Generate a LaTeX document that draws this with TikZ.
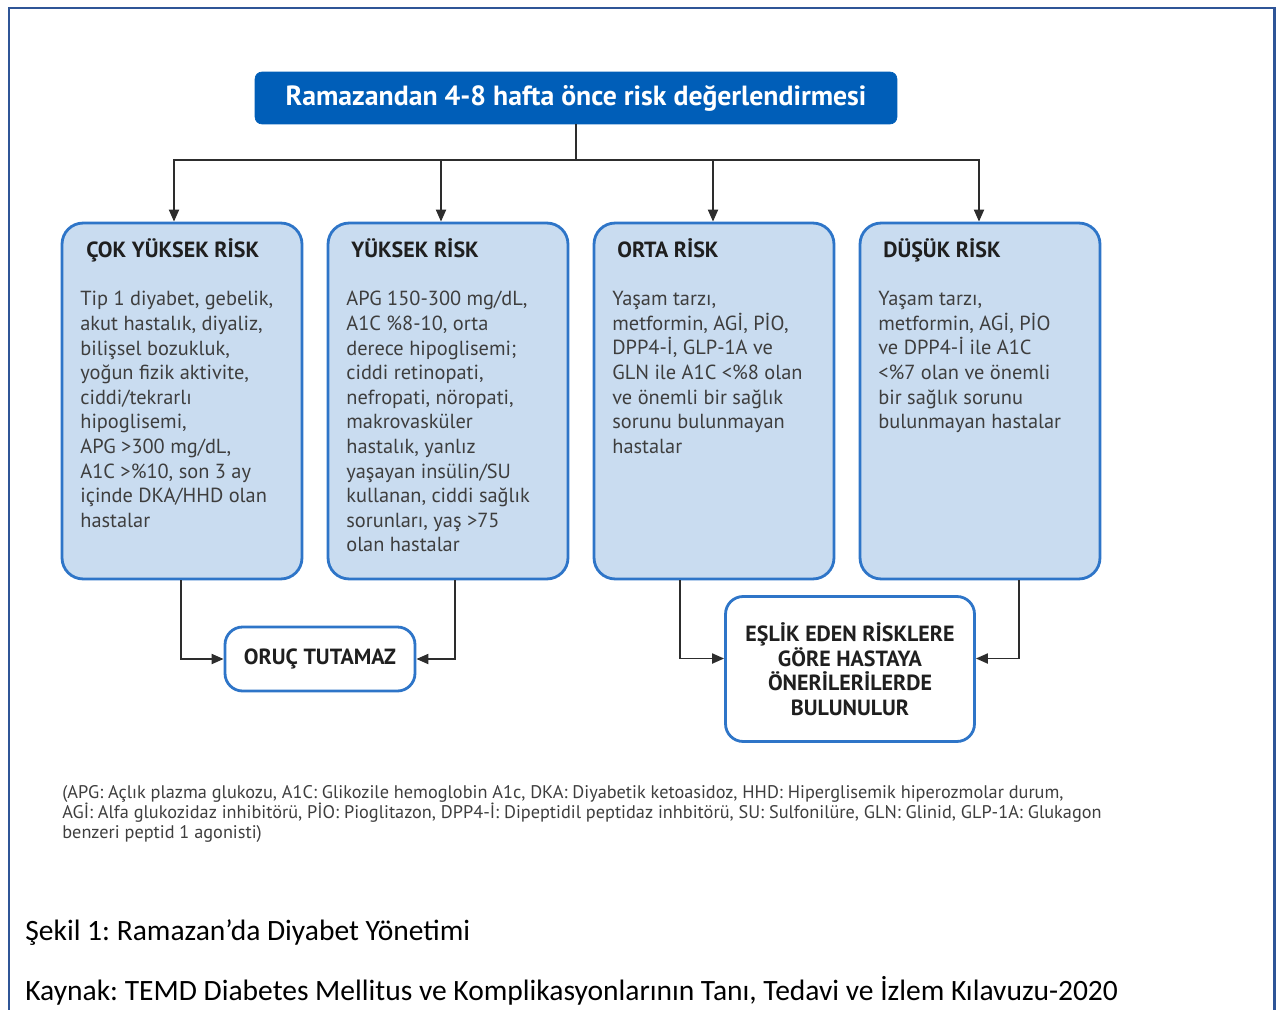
\documentclass[tikz,border=0pt]{standalone}
\usepackage{fontspec}
\setmainfont{PT Sans}
\newfontfamily\capfont{Carlito}
\usetikzlibrary{arrows.meta,positioning}
\definecolor{frameblue}{RGB}{47,85,151}
\definecolor{headblue}{RGB}{0,94,184}
\definecolor{riskfill}{RGB}{201,220,240}
\definecolor{riskline}{RGB}{46,117,200}
\definecolor{wiregray}{RGB}{45,45,45}
\definecolor{bodygray}{RGB}{62,62,62}
\frenchspacing
\tikzset{
  frame/.style={frameblue, line width=1.7pt},
  headbox/.style={fill=headblue, draw=headblue, rounded corners=4pt,
                  minimum width=12.84cm, minimum height=1.04cm,
                  text=white, font=\fontsize{15.8}{18}\selectfont\bfseries},
  riskbox/.style={draw=riskline, fill=riskfill, line width=1.6pt,
                  rounded corners=12pt, minimum width=4.8cm,
                  minimum height=7.12cm},
  outbox/.style={draw=riskline, fill=white, line width=1.6pt,
                 rounded corners=10pt, align=center,
                 font=\fontsize{12.5}{14}\selectfont\bfseries, text=black!88},
  riskhead/.style={inner sep=0pt, font=\fontsize{12.5}{14}\selectfont\bfseries,
                   text=black!88},
  riskbody/.style={inner sep=0pt, align=left,
                   font=\fontsize{11.6}{14}\selectfont, text=bodygray},
  wire/.style={wiregray, line width=1.1pt},
  flow/.style={wire, -{Triangle[length=2.4mm,width=2mm]}},
  note/.style={inner sep=0pt, align=left,
               font=\fontsize{10.4}{11.3}\selectfont, text=bodygray},
  caption/.style={inner sep=0pt, font=\capfont\fontsize{16.8}{18}\selectfont,
                  text=black},
}
\begin{document}
\begin{tikzpicture}[x=0.02cm,y=-0.02cm]
  \useasboundingbox (0,0) rectangle (1284,1010);

  % page frame, open at the bottom
  \draw[frame] (9,1030) -- (9,8) -- (1274,8) -- (1274,1030);

  \node[headbox] (assess) at (576,98)
    {Ramazandan 4-8 hafta önce risk değerlendirmesi};
  \coordinate (split) at (576,160);

  % risk groups
  \node[riskbox] (vhigh) at (182,401) {};
  \node[riskbox] (high)  at (448,401) {};
  \node[riskbox] (mid)   at (714,401) {};
  \node[riskbox] (low)   at (980,401) {};

  \node[riskhead, anchor=base west] (vhighhead) at (86,257) {ÇOK YÜKSEK RİSK};
  \node[riskhead, anchor=base west] (highhead)  at (351,257) {YÜKSEK RİSK};
  \node[riskhead, anchor=base west] (midhead)   at (617,257) {ORTA RİSK};
  \node[riskhead, anchor=base west] (lowhead)   at (883,257) {DÜŞÜK RİSK};

  \node[riskbody, anchor=north west] (vhighbody) at (80,291)
    {Tip 1 diyabet, gebelik,\\
     akut hastalık, diyaliz,\\
     bilişsel bozukluk,\\
     yoğun fizik aktivite,\\
     ciddi/tekrarlı\\
     hipoglisemi,\\
     APG >300 mg/dL,\\
     A1C >\%10, son 3 ay\\
     içinde DKA/HHD olan\\
     hastalar};
  \node[riskbody, anchor=north west] (highbody) at (346,291)
    {APG 150-300 mg/dL,\\
     A1C \%8-10, orta\\
     derece hipoglisemi;\\
     ciddi retinopati,\\
     nefropati, nöropati,\\
     makrovasküler\\
     hastalık, yanlız\\
     yaşayan insülin/SU\\
     kullanan, ciddi sağlık\\
     sorunları, yaş >75\\
     olan hastalar};
  \node[riskbody, anchor=north west] (midbody) at (612,291)
    {Yaşam tarzı,\\
     metformin, AGİ, PİO,\\
     DPP4-İ, GLP-1A ve\\
     GLN ile A1C <\%8 olan\\
     ve önemli bir sağlık\\
     sorunu bulunmayan\\
     hastalar};
  \node[riskbody, anchor=north west] (lowbody) at (878,291)
    {Yaşam tarzı,\\
     metformin, AGİ, PİO\\
     ve DPP4-İ ile A1C\\
     <\%7 olan ve önemli\\
     bir sağlık sorunu\\
     bulunmayan hastalar};

  % outcomes
  \node[outbox, minimum width=3.8cm, minimum height=1.28cm] (nofast) at (320,659)
    {ORUÇ TUTAMAZ};
  \node[outbox, minimum width=4.98cm, minimum height=2.9cm] (advice) at (850,669)
    {EŞLİK EDEN RİSKLERE\\ GÖRE HASTAYA\\ ÖNERİLERİLERDE\\ BULUNULUR};

  % connectors
  \draw[wire] (assess) -- (split);
  \draw[flow] (split) -| ([xshift=-0.16cm]vhigh.north);
  \draw[flow] (split) -| ([xshift=-0.14cm]high.north);
  \draw[flow] (split) -| ([xshift=-0.02cm]mid.north);
  \draw[flow] (split) -| ([xshift=-0.02cm]low.north);

  \draw[flow] ([xshift=-0.02cm]vhigh.south) |- (nofast.west);
  \draw[flow] ([xshift=0.14cm]high.south) |- (nofast.east);
  \draw[flow] ([xshift=-0.68cm]mid.south) |- ([yshift=0.21cm]advice.west);
  \draw[flow] ([xshift=0.78cm]low.south) |- ([yshift=0.21cm]advice.east);

  \node[note, anchor=north west] (abbrev) at (62,785)
    {(APG: Açlık plazma glukozu, A1C: Glikozile hemoglobin A1c, DKA: Diyabetik ketoasidoz, HHD: Hiperglisemik hiperozmolar durum,\\
     AGİ: Alfa glukozidaz inhibitörü, PİO: Pioglitazon, DPP4-İ: Dipeptidil peptidaz inhbitörü, SU: Sulfonilüre, GLN: Glinid, GLP-1A: Glukagon\\
     benzeri peptid 1 agonisti)};

  \node[caption, anchor=base west] (figcap) at (25,940)
    {Şekil 1: Ramazan’da Diyabet Yönetimi};
  \node[caption, anchor=base west] (source) at (25,1000)
    {Kaynak: TEMD Diabetes Mellitus ve Komplikasyonlarının Tanı, Tedavi ve İzlem Kılavuzu-2020};
\end{tikzpicture}
\end{document}
